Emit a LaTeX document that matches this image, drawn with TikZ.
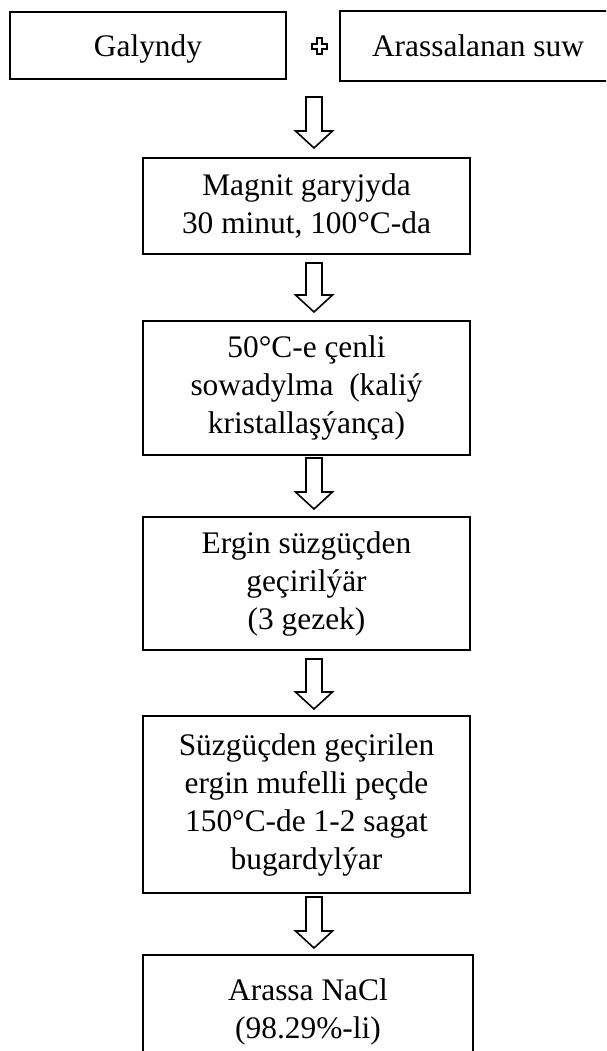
\documentclass[tikz,border=0pt]{standalone}
\usepackage{fontspec}
\setmainfont{Liberation Serif}
\usetikzlibrary{calc}
\begin{document}
\begin{tikzpicture}[
  x=1pt, y=-1pt,
  stage/.style={draw, line width=2pt, align=center, inner sep=0pt,
    font=\fontsize{31.4}{38}\selectfont},
  fatarrow/.style={line width=1.6pt, line join=miter,
    to path={let \p1=(\tikztostart), \p2=(\tikztotarget) in
      (\x1-8pt,\y1) -- (\x1-8pt,\y2+17pt) -- (\x1-18.5pt,\y2+17pt)
      -- (\x1,\y2) -- (\x1+18.5pt,\y2+17pt) -- (\x1+8pt,\y2+17pt)
      -- (\x1+8pt,\y1) -- cycle}},
  plussign/.style={line width=2pt, line join=miter}
]
\clip (0,0) rectangle (606,1051);

% inputs
\node[stage, text depth=0pt, minimum width=276pt, minimum height=67pt] (res) at (148,45.5) {Galyndy};
\node[stage, text depth=0pt, minimum width=276pt, minimum height=70pt] (water) at (478,46) {Arassalanan suw};

% plus sign between the inputs
\coordinate (plus) at (319.5,46.5);
\begin{scope}[shift={(plus)}]
  \draw[plussign] (-2.8,-8) -- (2.8,-8) -- (2.8,-2.8) -- (7.6,-2.8) -- (7.6,2.8)
    -- (2.8,2.8) -- (2.8,8) -- (-2.8,8) -- (-2.8,2.8) -- (-7.6,2.8)
    -- (-7.6,-2.8) -- (-2.8,-2.8) -- cycle;
\end{scope}

% process steps
\node[stage, minimum width=327pt, minimum height=96pt] (mix) at (306.5,206)
  {Magnit garyjyda\\30 minut, 100°C-da};
\node[stage, minimum width=327pt, minimum height=134pt] (cool) at (306.5,388)
  {50°C-e çenli\\sowadylma\ \ (kaliý\\kristallaşýança)};
\node[stage, minimum width=327pt, minimum height=133pt] (filter) at (306.5,583.5)
  {Ergin süzgüçden\\geçirilýär\\(3 gezek)};
\node[stage, minimum width=327pt, minimum height=177pt] (dry) at (306.5,804.5)
  {Süzgüçden geçirilen\\ergin mufelli peçde\\150°C-de 1-2 sagat\\bugardylýar};
\node[stage, minimum width=330pt, minimum height=114pt] (salt) at (308,1012)
  {Arassa NaCl\\(98.29\%-li)};

% block arrows
\coordinate (join) at (314,97);
\draw[fatarrow] (join) to ([xshift=7.5pt,yshift=9pt]mix.north);
\draw[fatarrow] ([xshift=7.5pt,yshift=-8pt]mix.south) to ([xshift=7.5pt,yshift=8pt]cool.north);
\draw[fatarrow] ([xshift=7.5pt,yshift=-2pt]cool.south) to ([xshift=7.5pt,yshift=7pt]filter.north);
\draw[fatarrow] ([xshift=7.5pt,yshift=-8pt]filter.south) to ([xshift=7.5pt,yshift=6pt]dry.north);
\draw[fatarrow] ([xshift=7.5pt,yshift=-3pt]dry.south) to ([xshift=6pt,yshift=6pt]salt.north);
\end{tikzpicture}
\end{document}
